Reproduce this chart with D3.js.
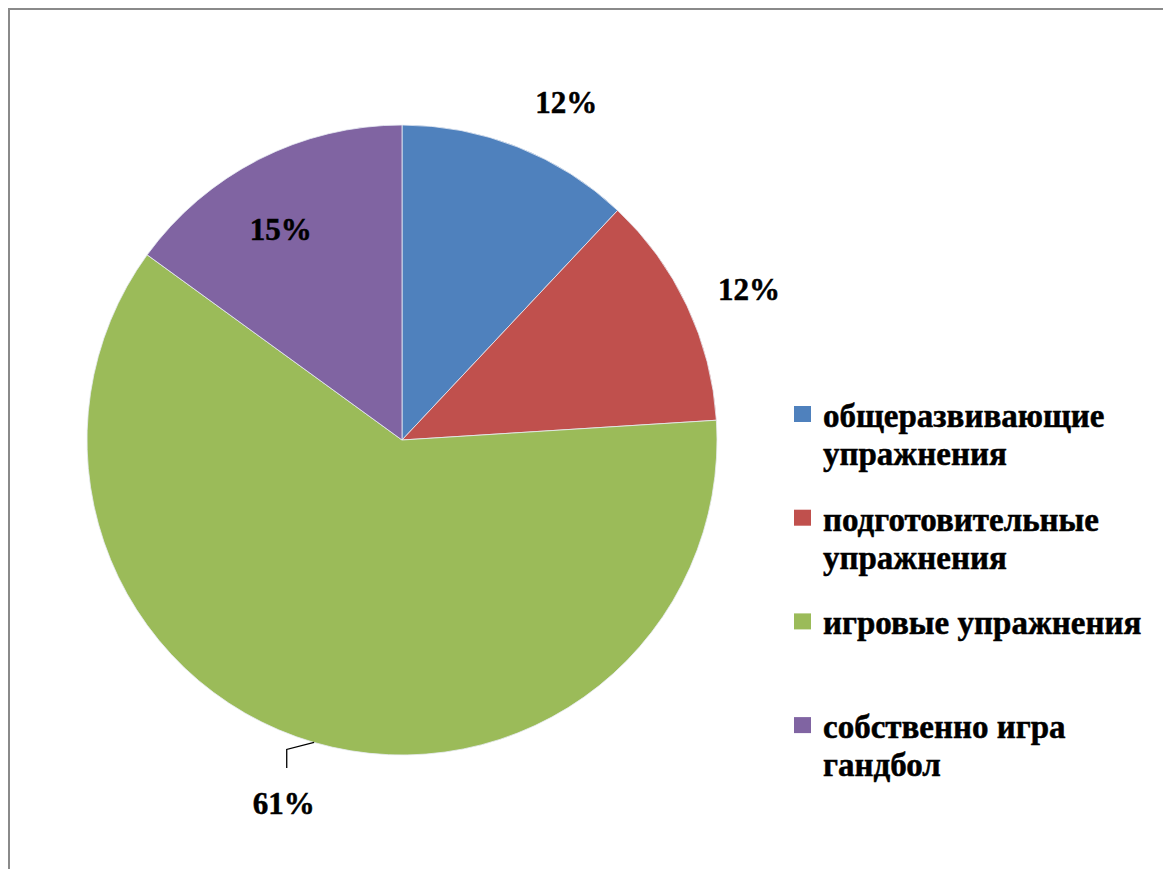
<!DOCTYPE html>
<html>
<head>
<meta charset="utf-8">
<script src="https://cdn.jsdelivr.net/npm/d3@7"></script>
<style>
  html, body { margin: 0; padding: 0; background: #fff; }
  svg { display: block; }
  text { font-family: "Liberation Serif", "Times New Roman", serif; font-weight: bold; fill: #000; stroke: #000; stroke-width: 0.5px; }
</style>
</head>
<body>
<svg id="chart" width="1163" height="869"></svg>
<script>
// Share of exercise types in the training session
const categories = [
  "общеразвивающие упражнения",
  "подготовительные упражнения",
  "игровые упражнения",
  "собственно игра гандбол"
];
const values = [12, 12, 61, 15];
const valueLabels = ["12%", "12%", "61%", "15%"];
const colors = ["#4F81BD", "#C0504D", "#9BBB59", "#8064A2"];

const W = 1163, H = 869;
const svg = d3.select("#chart");

// outer frame (top and left edges visible)
svg.append("path")
  .attr("d", `M9,${H} V9 H${W}`)
  .attr("fill", "none")
  .attr("stroke", "#8a8a8a")
  .attr("stroke-width", 2);

const cx = 402, cy = 440, R = 315;
const g = svg.append("g").attr("transform", `translate(${cx},${cy})`);

const pie = d3.pie().sort(null).value(d => d)(values);
const arc = d3.arc().innerRadius(0).outerRadius(R);

g.selectAll("path.slice")
  .data(pie)
  .join("path")
  .attr("class", "slice")
  .attr("d", arc)
  .attr("fill", (d, i) => colors[i])
  .attr("stroke", "#e8ecf4")
  .attr("stroke-width", 0.8);

// label placement: radius factor and angular nudge (degrees) per slice
const placement = [
  { k: 1.19, da: 4.4 },
  { k: 1.20, da: 1.8 },
  { k: 1.215, da: 1.8 },
  { k: 0.77, da: -3 }
];
const polar = (a, r) => [r * Math.sin(a), -r * Math.cos(a)];

pie.forEach((d, i) => {
  const mid = (d.startAngle + d.endAngle) / 2;
  const p = placement[i];
  const [x, y] = polar(mid + p.da * Math.PI / 180, R * p.k);
  g.append("text")
    .attr("x", x)
    .attr("y", y)
    .attr("dy", "0.33em")
    .attr("text-anchor", "middle")
    .attr("font-size", 31)
    .text(valueLabels[i]);
  if (i === 2) {
    // leader line from the slice edge to its label
    const [sx, sy] = polar(mid, R);
    const [lx, ly] = [x + 3, y - 36];
    g.append("path")
      .attr("d", `M${sx},${sy} L${lx},${sy + 7} L${lx},${ly}`)
      .attr("fill", "none")
      .attr("stroke", "#000")
      .attr("stroke-width", 1.3);
  }
});

// legend
const legend = svg.append("g");
const lx0 = 794, ly0 = 414, step = 103.7, fs = 33, lineH = 38, maxW = 335;

function wrap(textSel, str) {
  const words = str.split(" ");
  let line = [], tspan = textSel.append("tspan").attr("x", 0).attr("dy", 0);
  words.forEach(w => {
    line.push(w);
    tspan.text(line.join(" "));
    if (tspan.node().getComputedTextLength() > maxW && line.length > 1) {
      line.pop();
      tspan.text(line.join(" "));
      line = [w];
      tspan = textSel.append("tspan").attr("x", 0).attr("dy", lineH).text(w);
    }
  });
}

categories.forEach((c, i) => {
  const y = ly0 + i * step;
  const item = legend.append("g").attr("transform", `translate(${lx0},${y})`);
  item.append("rect")
    .attr("x", 0).attr("y", -8)
    .attr("width", 17).attr("height", 16)
    .attr("fill", colors[i]);
  const t = item.append("text")
    .attr("transform", "translate(29,13)")
    .attr("font-size", fs);
  wrap(t, c);
});
</script>
</body>
</html>
